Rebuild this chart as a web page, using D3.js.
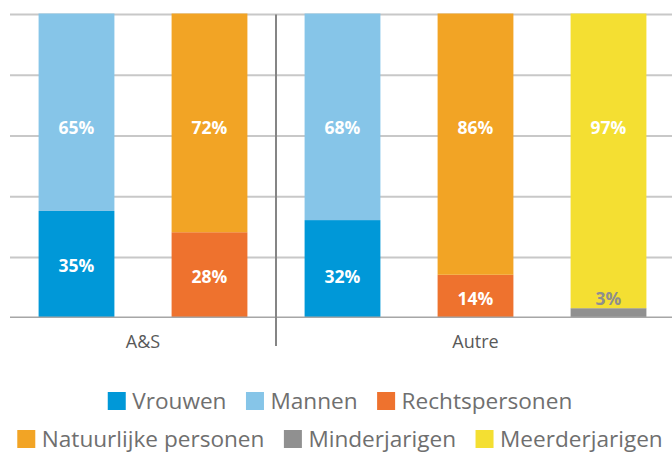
<!DOCTYPE html>
<html>
<head>
<meta charset="utf-8">
<script src="https://cdn.jsdelivr.net/npm/d3@7"></script>
<style>
  html, body { margin: 0; padding: 0; background: #ffffff; }
  svg { display: block; }
</style>
</head>
<body>
<div id="chart"></div>
<script>
// ---- data ----
const groups = ["A&S", "Autre"];
const barIds = ["b1", "b2", "b3", "b4", "b5"];
const barGroup = ["A&S", "A&S", "Autre", "Autre", "Autre"];
const seriesNames = ["Vrouwen", "Mannen", "Rechtspersonen", "Natuurlijke personen", "Minderjarigen", "Meerderjarigen"];
const seriesColors = ["#0098d8", "#86c5e8", "#ee722e", "#f2a425", "#909090", "#f4df32"];
const bottomSeries = ["Vrouwen", "Rechtspersonen", "Vrouwen", "Rechtspersonen", "Minderjarigen"];
const bottomValues = [35, 28, 32, 14, 3];
const topSeries = ["Mannen", "Natuurlijke personen", "Mannen", "Natuurlijke personen", "Meerderjarigen"];
const topValues = [65, 72, 68, 86, 97];
const yTicks = [0, 20, 40, 60, 80, 100];
// label anchor levels (in % units) as placed in the original chart
const bottomLabelLevel = [17, 13.2, 13.2, 6, 6];
const topLabelLevel = [62.4, 62.4, 62.4, 62.4, 62.4];

// ---- layout ----
const W = 672, H = 454;
const svg = d3.select("#chart").append("svg").attr("width", W).attr("height", H);

const x = d3.scaleBand().domain(barIds).range([10, 675]).paddingInner(0.43).paddingOuter(0.215);
const y = d3.scaleLinear().domain([0, 100]).range([317.3, 13.5]);
const color = d3.scaleOrdinal().domain(seriesNames).range(seriesColors);

// gridlines
svg.append("g").selectAll("line").data(yTicks.filter(t => t > 0)).join("line")
  .attr("x1", 10).attr("x2", W)
  .attr("y1", d => y(d) + 1).attr("y2", d => y(d) + 1)
  .attr("stroke", "#c8c8c8").attr("stroke-width", 2);

// bars
const bars = svg.append("g");
barIds.forEach((id, i) => {
  bars.append("rect")
    .attr("x", x(id)).attr("width", x.bandwidth())
    .attr("y", y(bottomValues[i])).attr("height", y(0) - y(bottomValues[i]))
    .attr("fill", color(bottomSeries[i]));
  bars.append("rect")
    .attr("x", x(id)).attr("width", x.bandwidth())
    .attr("y", y(bottomValues[i] + topValues[i])).attr("height", y(bottomValues[i]) - y(bottomValues[i] + topValues[i]))
    .attr("fill", color(topSeries[i]));
});

// baseline axis
svg.append("line").attr("x1", 10).attr("x2", W).attr("y1", y(0)).attr("y2", y(0))
  .attr("stroke", "#a6a6a6").attr("stroke-width", 1.5);

// group separator
const sepX = x(barIds[2]) - x.step() * x.paddingInner() / 2;
svg.append("line").attr("x1", sepX).attr("x2", sepX).attr("y1", y(100) + 1).attr("y2", 346)
  .attr("stroke", "#858585").attr("stroke-width", 2);

// data labels
const labels = svg.append("g").attr("font-family", "'Open Sans', sans-serif")
  .attr("font-weight", "bold").attr("font-size", 17.5).attr("text-anchor", "middle");
barIds.forEach((id, i) => {
  const cx = x(id) + x.bandwidth() / 2;
  labels.append("text").attr("x", cx).attr("y", y(bottomLabelLevel[i])).attr("dy", "0.36em")
    .attr("fill", bottomValues[i] < 5 ? "#8e8e8e" : "#ffffff")
    .text(bottomValues[i] + "%");
  labels.append("text").attr("x", cx).attr("y", y(topLabelLevel[i])).attr("dy", "0.36em")
    .attr("fill", "#ffffff")
    .text(topValues[i] + "%");
});

// group labels
const gl = svg.append("g").attr("font-family", "'Open Sans', sans-serif").attr("font-size", 18)
  .attr("fill", "#595959").attr("text-anchor", "middle");
groups.forEach(g => {
  const ids = barIds.filter((id, i) => barGroup[i] === g);
  const x0 = x(ids[0]) - x.step() * x.paddingInner() / 2;
  const x1 = x(ids[ids.length - 1]) + x.bandwidth() + x.step() * x.paddingInner() / 2;
  gl.append("text").attr("x", (x0 + x1) / 2).attr("y", 348).text(g);
});

// legend
const legendRows = [[0, 1, 2], [3, 4, 5]];
const rowBaselines = [409, 447];
const sq = 18, gapText = 6.5, gapItem = 19.5, legendCenter = 340;
const lg = svg.append("g").attr("font-family", "'Open Sans', sans-serif").attr("font-size", 22.6).attr("fill", "#6f6f6f");
legendRows.forEach((row, r) => {
  const items = row.map(k => {
    const g = lg.append("g");
    g.append("rect").attr("width", sq).attr("height", sq).attr("fill", seriesColors[k]);
    const t = g.append("text").attr("x", sq + gapText).attr("y", sq - 1).text(seriesNames[k]);
    return { g, w: sq + gapText + t.node().getComputedTextLength() };
  });
  const total = d3.sum(items, d => d.w) + gapItem * (items.length - 1);
  let cx = legendCenter - total / 2;
  items.forEach(it => {
    it.g.attr("transform", `translate(${cx},${rowBaselines[r] - sq + 1})`);
    cx += it.w + gapItem;
  });
});
</script>
</body>
</html>
